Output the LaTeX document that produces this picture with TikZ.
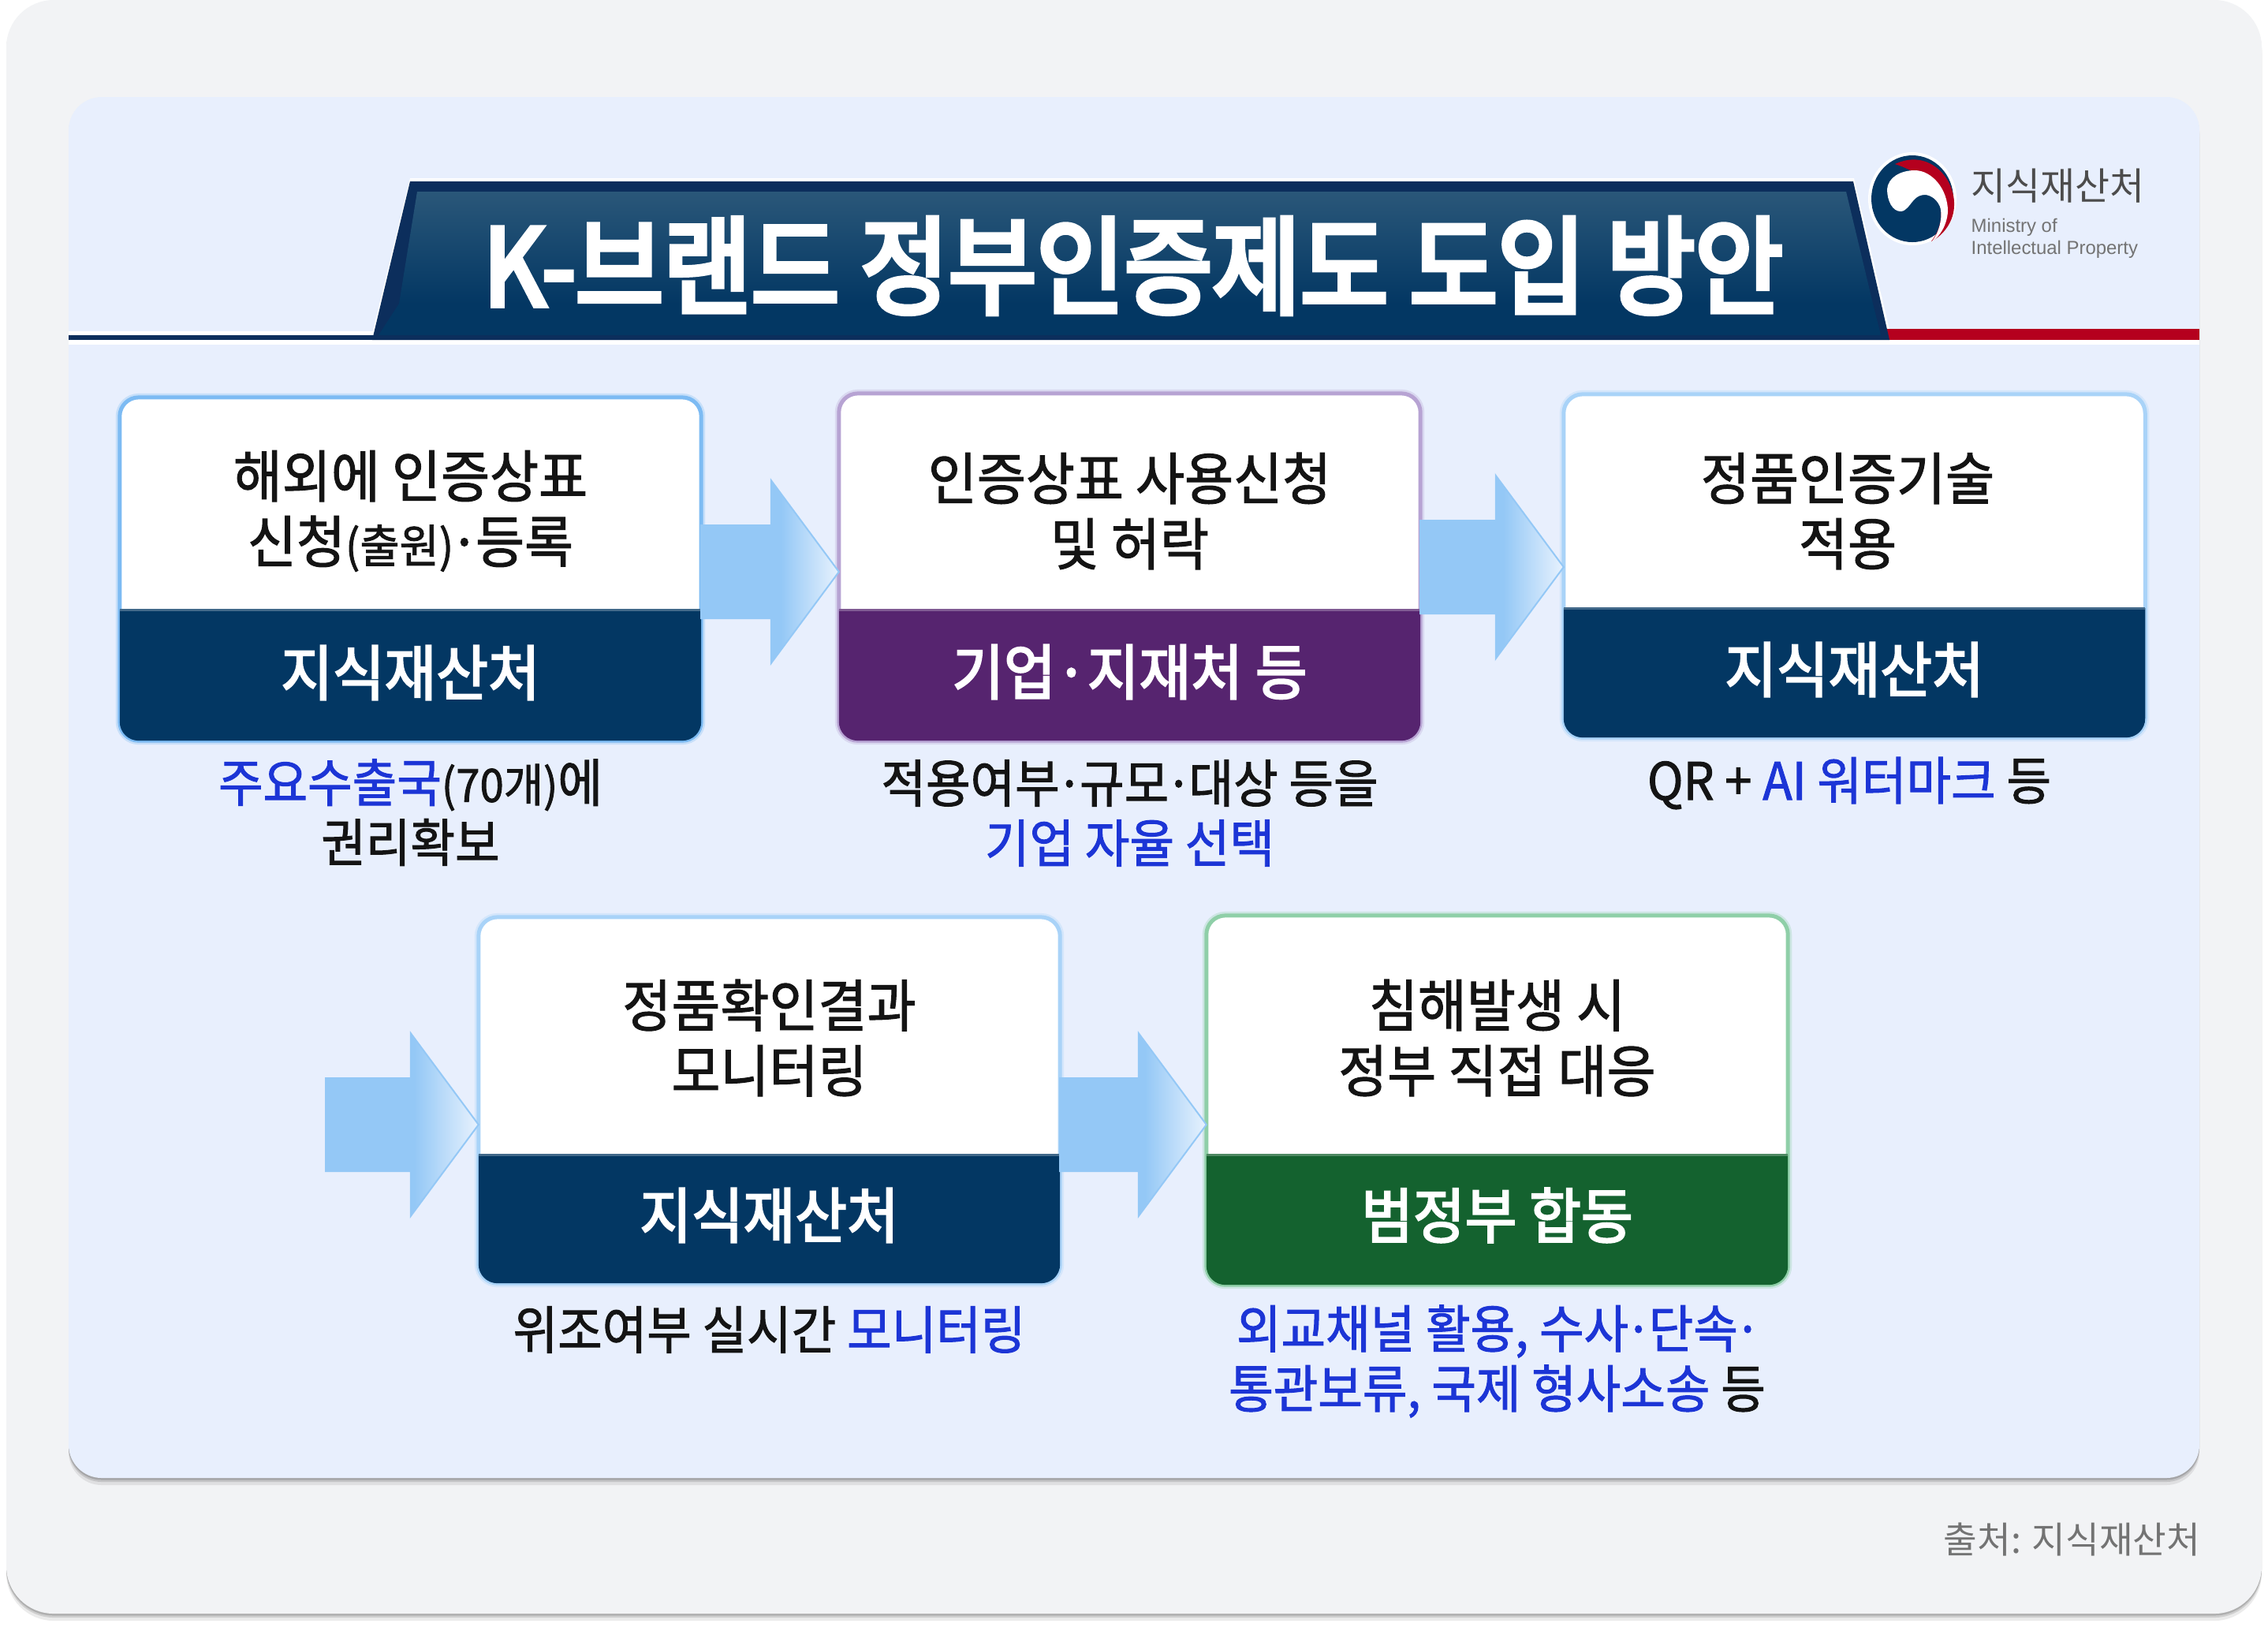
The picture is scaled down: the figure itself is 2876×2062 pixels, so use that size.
\documentclass[tikz,border=0pt]{standalone}
\usepackage{fontspec}
\setmainfont{Noto Sans CJK KR}
\newfontfamily\latinfont{Liberation Sans}
\newfontfamily\krbody[FakeStretch=0.94,FakeBold=1.5]{Noto Sans CJK KR}
\newfontfamily\krband[FakeStretch=0.94,FakeBold=3]{Noto Sans CJK KR}
\newfontfamily\krtitle[FakeStretch=0.9,FakeBold=5]{Noto Sans CJK KR}
\usetikzlibrary{calc,shadows}

\definecolor{cardgray}{HTML}{F2F3F5}
\definecolor{panelblue}{HTML}{E8EFFD}
\definecolor{navyband}{HTML}{033763}
\definecolor{navytop}{HTML}{2A5779}
\definecolor{navyedge}{HTML}{0C2E5C}
\definecolor{purpleband}{HTML}{56246F}
\definecolor{greenband}{HTML}{14622F}
\definecolor{logored}{HTML}{B5001E}
\definecolor{edgesky}{HTML}{7DBBF3}
\definecolor{edgepale}{HTML}{A9D3F8}
\definecolor{edgepurple}{HTML}{B7A3D3}
\definecolor{edgegreen}{HTML}{8FCFA8}
\definecolor{flowblue}{HTML}{94C8F6}
\definecolor{flowpale}{HTML}{E4F0FD}
\definecolor{markblue}{HTML}{1C35D6}

\pgfdeclarehorizontalshading{flowshade}{100bp}{color(0bp)=(flowblue); color(54bp)=(flowblue); color(74bp)=(flowpale); color(100bp)=(flowpale)}

\newcommand{\tightdot}{\kern-.07em·\kern-.07em}

\tikzset{
  softshadow/.style={
    drop shadow={shadow xshift=0cm,shadow yshift=-.09cm,opacity=.08,fill=black},
    drop shadow={shadow xshift=0cm,shadow yshift=-.05cm,opacity=.12,fill=black},
    drop shadow={shadow xshift=0cm,shadow yshift=-.025cm,opacity=.15,fill=black}},
  stagebox/.style={draw=#1, fill=white, line width=.05cm, rounded corners=.24cm, outer sep=0pt, minimum width=7.37cm, inner sep=0pt,
    preaction={draw=#1, opacity=.3, line width=.1cm}},
  stagetext/.style={align=center, text=black!92, font=\krbody\fontsize{20.4}{23.6}\selectfont},
  bandtext/.style={text=white, font=\krband\fontsize{21.6}{24}\selectfont},
  notetext/.style={align=center, text=black!92, font=\krbody\fontsize{18.6}{21.6}\selectfont},
  flowarrow/.style={draw=flowblue, line width=.02cm, line join=miter, shading=flowshade},
}

% band at the foot of a stage box
\newcommand{\stageband}[3]{
  \fill[#3] (#1.west |- 0,#2) [rounded corners=.24cm] -- (#1.south west) -- (#1.south east) [sharp corners] -- (#1.east |- 0,#2) -- cycle;
  \draw[#3!75!white, line width=.03cm] (#1.west |- 0,#2) -- (#1.east |- 0,#2);
}
% block arrow from a source up to a tip
\newcommand{\flowconnect}[2]{
  \shadedraw[flowarrow] ($(#1 |- #2)+(0,-59)$) -- ($(#2)+(-86,-59)$) -- ($(#2)+(-86,-116)$) -- (#2)
    -- ($(#2)+(-86,116)$) -- ($(#2)+(-86,59)$) -- ($(#1 |- #2)+(0,59)$) -- cycle;
}

\begin{document}
\begin{tikzpicture}[x=.01cm,y=-.01cm]
\useasboundingbox[fill=white] (0,0) rectangle (2876,2062);

% card and panel
\fill[cardgray, rounded corners=.6cm, softshadow] (8,0) rectangle (2868,2046);
\fill[panelblue, rounded corners=.42cm, softshadow] (87,123) rectangle (2789,1874);

% title banner
\fill[white] (87,420) rectangle (2789,437);
\fill[white] (520,226) -- (2351,226) -- (2399,431) -- (470,431) -- cycle;
\fill[navyedge] (87,425) rectangle (490,431);
\fill[logored] (2385,417) rectangle (2789,431);
\fill[navyedge] (520,230) -- (2350,230) -- (2396,431) -- (472,431) -- cycle;
\shade[top color=navytop, bottom color=navyband] (529,243) -- (2341,243) -- (2375,385) -- (506,385) -- cycle;
\fill[navyband] (506,385) -- (2375,385) -- (2385,425) -- (480,425) -- cycle;
\node[text=white, font=\krtitle\fontsize{38.3}{42}\selectfont] (title) at (1437,337) {K-브랜드 정부인증제도 도입 방안};

% logo
\fill[white] (2425,252) ellipse [x radius=56, y radius=59];
\fill[navyband] (2425,252) ellipse [x radius=52, y radius=55];
\fill[logored] (2403,208) .. controls (2445,188) and (2479,225) .. (2478,260) .. controls (2478,280) and (2465,298) .. (2449,306)
  .. controls (2470,280) and (2470,230) .. (2403,208) -- cycle;
\fill[white] (2393,240) .. controls (2394,225) and (2410,216) .. (2428,216) .. controls (2450,216) and (2470,240) .. (2470,268)
  .. controls (2469,285) and (2460,300) .. (2450,306) .. controls (2462,290) and (2463,270) .. (2460,262)
  .. controls (2455,250) and (2445,247) .. (2441,247) .. controls (2430,247) and (2426,255) .. (2420,262)
  .. controls (2416,266) and (2414,268) .. (2410,268) .. controls (2400,268) and (2393,255) .. (2393,240) -- cycle;
\node[anchor=west, inner sep=0pt, text=black!70, font=\fontsize{13.6}{16}\selectfont] (logoname) at (2499,236) {지식재산처};
\node[anchor=north west, inner sep=0pt, align=left, text=black!55, font=\latinfont\fontsize{6.8}{8}\selectfont] (logoeng) at (2499,276) {Ministry of\\Intellectual Property};

% stage boxes
\node[stagebox=edgesky, minimum height=4.35cm] (b1) at (520.5,721.5) {};
\node[stagebox=edgepurple, minimum height=4.4cm] (b2) at (1432.5,719) {};
\node[stagebox=edgepale, minimum height=4.35cm] (b3) at (2351.5,717.5) {};
\node[stagebox=edgepale, minimum height=4.64cm] (b4) at (975.5,1395) {};
\node[stagebox=edgegreen, minimum height=4.68cm] (b5) at (1898.5,1395) {};

\stageband{b1}{773}{navyband}
\stageband{b2}{773}{purpleband}
\stageband{b3}{771}{navyband}
\stageband{b4}{1464}{navyband}
\stageband{b5}{1464}{greenband}

% stage titles
\node[stagetext] (b1t) at (b1 |- 0,648) {해외에 인증상표\\신청{\fontsize{16.5}{16}\selectfont(출원)}\tightdot 등록};
\node[stagetext] (b2t) at (b2 |- 0,648) {인증상표 사용신청\\및 허락};
\node[stagetext] (b3t) at (2343,648) {정품인증기술\\적용};
\node[stagetext] (b4t) at (b4 |- 0,1316) {정품확인결과\\모니터링};
\node[stagetext] (b5t) at (b5 |- 0,1316) {침해발생 시\\정부 직접 대응};

% band labels
\node[bandtext] (b1l) at (b1 |- 0,853) {지식재산처};
\node[bandtext] (b2l) at (b2 |- 0,852) {기업·지재처 등};
\node[bandtext] (b3l) at (b3 |- 0,849) {지식재산처};
\node[bandtext] (b4l) at (b4 |- 0,1541) {지식재산처};
\node[bandtext] (b5l) at (b5 |- 0,1541) {범정부 합동};

% notes under the boxes
\node[notetext] (b1n) at (b1 |- 0,1030) {\textcolor{markblue}{주요수출국}{\fontsize{16.5}{18}\selectfont(70개)}에\\권리확보};
\node[notetext] (b2n) at (b2 |- 0,1031) {적용여부\tightdot 규모\tightdot 대상 등을\\\textcolor{markblue}{기업 자율 선택}};
\node[notetext] (b3n) at (2345,993) {QR + \textcolor{markblue}{AI 워터마크} 등};
\node[notetext] (b4n) at (b4 |- 0,1686) {위조여부 실시간 \textcolor{markblue}{모니터링}};
\node[notetext] (b5n) at (b5 |- 0,1726) {\textcolor{markblue}{외교채널 활용, 수사\tightdot 단속\tightdot}\\\textcolor{markblue}{통관보류, 국제 형사소송} 등};

% arrows
\coordinate (t1) at (b2.west |- 0,725);
\coordinate (t2) at (b3.west |- 0,719);
\coordinate (t3) at (b4.west |- 0,1426);
\coordinate (t4) at (b5.west |- 0,1426);
\coordinate (s3) at (413,1426);
\flowconnect{b1.east}{t1}
\flowconnect{b2.east}{t2}
\flowconnect{s3}{t3}
\flowconnect{b4.east}{t4}

% source
\node[anchor=east, inner sep=0pt, text=black!55, font=\fontsize{13.2}{16}\selectfont] (source) at (2791,1952) {출처: 지식재산처};
\end{tikzpicture}
\end{document}
